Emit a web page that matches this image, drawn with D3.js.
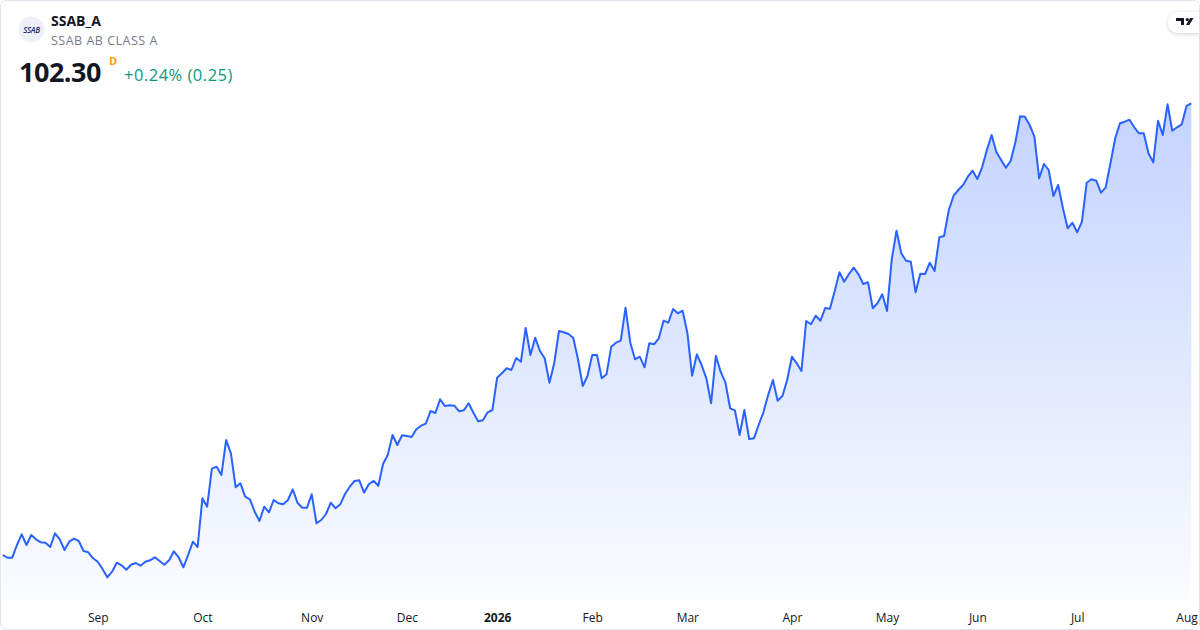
<!DOCTYPE html>
<html>
<head>
<meta charset="utf-8">
<script src="https://cdn.jsdelivr.net/npm/d3@7"></script>
<style>
  body { margin: 0; background: #fff; font-family: "Open Sans", sans-serif; }
</style>
</head>
<body>
<div id="graph"></div>
<script>
// Données : cours de clôture quotidiens (séances)
const prix = [
  57.13, 56.86, 56.86, 58.13, 59.20, 58.13, 59.13, 58.70, 58.40, 58.36,
  57.93, 59.30, 58.70, 57.63, 58.46, 58.76, 58.53, 57.53, 57.40, 56.80,
  56.46, 55.73, 54.90, 55.46, 56.36, 56.10, 55.66, 56.16, 56.33, 56.06,
  56.46, 56.60, 56.90, 56.53, 56.16, 56.60, 57.50, 56.90, 55.90, 57.13,
  58.46, 57.93, 62.80, 61.96, 65.76, 65.96, 65.13, 68.63, 67.30, 63.90,
  64.30, 62.96, 62.70, 61.46, 60.53, 61.96, 61.40, 62.63, 62.30, 62.20,
  62.63, 63.70, 62.36, 61.86, 61.86, 63.20, 60.30, 60.63, 61.23, 62.36,
  61.80, 62.20, 63.23, 63.96, 64.53, 64.60, 63.36, 64.20, 64.56, 64.06,
  66.23, 67.16, 69.13, 68.13, 69.10, 69.03, 68.93, 69.70, 70.06, 70.26,
  71.53, 71.33, 72.70, 72.03, 72.10, 72.06, 71.50, 71.60, 72.30, 71.36,
  70.50, 70.60, 71.40, 71.63, 74.86, 75.30, 75.80, 75.63, 76.83, 76.46,
  79.83, 77.13, 78.86, 77.53, 76.80, 74.36, 76.30, 79.53, 79.40, 79.23,
  78.86, 76.70, 74.03, 75.03, 77.13, 77.13, 74.80, 75.20, 77.96, 78.36,
  78.56, 81.86, 78.36, 76.70, 76.96, 75.90, 78.30, 78.20, 78.80, 80.56,
  80.36, 81.73, 81.30, 81.56, 79.36, 75.06, 77.20, 76.13, 74.80, 72.30,
  77.06, 75.46, 74.40, 71.80, 71.60, 69.13, 71.63, 68.73, 68.80, 70.13,
  71.40, 73.13, 74.63, 72.56, 73.03, 74.63, 76.96, 76.30, 75.53, 80.53,
  80.20, 81.06, 80.56, 81.83, 81.76, 83.53, 85.40, 84.46, 85.23, 85.86,
  85.20, 84.23, 84.40, 81.80, 82.30, 83.20, 81.53, 86.70, 89.56, 87.30,
  86.56, 86.46, 83.40, 85.26, 85.23, 86.36, 85.53, 88.90, 89.03, 91.63,
  93.06, 93.63, 94.13, 94.96, 95.56, 94.73, 95.90, 97.63, 99.13, 97.43,
  96.63, 95.86, 96.53, 98.40, 101.00, 100.96, 100.13, 98.96, 94.80, 96.23,
  95.63, 93.03, 94.13, 91.80, 89.80, 90.36, 89.40, 90.46, 94.36, 94.70,
  94.56, 93.36, 93.90, 96.30, 98.80, 100.30, 100.46, 100.66, 99.90, 99.30,
  99.30, 97.30, 96.40, 100.56, 99.13, 102.20, 99.56, 99.90, 100.20, 102.05,
  102.30
];

// Repères de l'axe : index de la première séance du mois
const moisIndex = [20, 42, 65, 85, 104, 124, 144, 166, 186, 205, 226, 249];
const moisLabels = ["Sep", "Oct", "Nov", "Dec", "2026", "Feb", "Mar", "Apr", "May", "Jun", "Jul", "Aug"];

const symbole = "SSAB_A";
const nomComplet = "SSAB AB CLASS A";
const dernierCours = "102.30";
const variation = "+0.24% (0.25)";

const width = 1200;
const height = 630;
const basPane = 600;

const svg = d3.select("#graph")
  .append("svg")
  .attr("width", width)
  .attr("height", height)
  .style("display", "block");

// Échelles
const xScale = d3.scaleLinear().domain([0, prix.length - 1]).range([2.7, 1191.3]);
const yScale = d3.scaleLinear().domain(d3.extent(prix)).range([577.3, 103.3]);

// Dégradé de l'aire
const defs = svg.append("defs");
const grad = defs.append("linearGradient")
  .attr("id", "aireGrad")
  .attr("gradientUnits", "userSpaceOnUse")
  .attr("x1", 0).attr("x2", 0)
  .attr("y1", yScale(d3.max(prix))).attr("y2", basPane);
grad.append("stop").attr("offset", 0).attr("stop-color", "rgb(41,98,255)").attr("stop-opacity", 0.28);
grad.append("stop").attr("offset", 1).attr("stop-color", "rgb(41,98,255)").attr("stop-opacity", 0.02);

const ombre = defs.append("filter").attr("id", "ombre")
  .attr("x", "-50%").attr("y", "-50%").attr("width", "200%").attr("height", "200%");
ombre.append("feDropShadow")
  .attr("dx", 0).attr("dy", 1).attr("stdDeviation", 2)
  .attr("flood-color", "#000").attr("flood-opacity", 0.18);

// Aire + ligne
const aire = d3.area()
  .x((d, i) => xScale(i))
  .y0(basPane)
  .y1(d => yScale(d));

const ligne = d3.line()
  .x((d, i) => xScale(i))
  .y(d => yScale(d));

svg.append("path")
  .datum(prix)
  .attr("d", aire)
  .attr("fill", "url(#aireGrad)");

svg.append("path")
  .datum(prix)
  .attr("d", ligne)
  .attr("fill", "none")
  .attr("stroke", "#2962ff")
  .attr("stroke-width", 2)
  .attr("stroke-linejoin", "round");

// Axe des temps
const axeX = svg.append("g")
  .attr("transform", `translate(0,${basPane})`)
  .call(d3.axisBottom(xScale)
    .tickValues(moisIndex)
    .tickFormat((d, i) => moisLabels[i])
    .tickSize(0)
    .tickPadding(13.5));

axeX.select(".domain").remove();
axeX.selectAll("text")
  .attr("fill", "#131722")
  .style("font-family", "'Open Sans', sans-serif")
  .style("font-size", "12px")
  .style("font-weight", (d, i) => moisLabels[i] === "2026" ? "700" : "400");

// En-tête
const entete = svg.append("g");

entete.append("circle")
  .attr("cx", 31.5).attr("cy", 29.5).attr("r", 13)
  .attr("fill", "#eef0f9");

entete.append("text")
  .attr("x", 31.5).attr("y", 32.5)
  .attr("text-anchor", "middle")
  .attr("fill", "#1d2c6b")
  .style("font-size", "8px")
  .style("font-weight", "600")
  .style("font-style", "italic")
  .style("letter-spacing", "-0.3px")
  .text("SSAB");

entete.append("text")
  .attr("x", 51).attr("y", 26)
  .attr("fill", "#131722")
  .style("font-size", "14px")
  .style("font-weight", "700")
  .text(symbole);

entete.append("text")
  .attr("x", 51).attr("y", 45)
  .attr("fill", "#787b86")
  .style("font-size", "12.5px")
  .style("letter-spacing", "0.5px")
  .text(nomComplet);

entete.append("text")
  .attr("x", 19).attr("y", 82)
  .attr("fill", "#131722")
  .style("font-size", "27px")
  .style("font-weight", "700")
  .style("letter-spacing", "-0.5px")
  .text(dernierCours);

entete.append("text")
  .attr("x", 109).attr("y", 65)
  .attr("fill", "#ff9800")
  .style("font-size", "11px")
  .style("font-weight", "700")
  .text("D");

entete.append("text")
  .attr("x", 124).attr("y", 81)
  .attr("fill", "#089981")
  .style("font-size", "16.5px")
  .style("letter-spacing", "0.5px")
  .text(variation);

// Logo en haut à droite
const logo = svg.append("g");
logo.append("rect")
  .attr("x", 1168).attr("y", 12).attr("width", 48).attr("height", 21).attr("rx", 10.5)
  .attr("fill", "#fff")
  .attr("filter", "url(#ombre)");
logo.append("path")
  .attr("d", "M1176 18h8v7h-3v-4h-5z")
  .attr("fill", "#131722");
logo.append("circle")
  .attr("cx", 1187.3).attr("cy", 19.6).attr("r", 1.6)
  .attr("fill", "#131722");
logo.append("path")
  .attr("d", "M1186 25l4.2-7h3.3l-4.2 7z")
  .attr("fill", "#131722");

// Cadre
svg.append("rect")
  .attr("x", 0.5).attr("y", 0.5)
  .attr("width", width - 1).attr("height", height - 1)
  .attr("rx", 6)
  .attr("fill", "none")
  .attr("stroke", "#e0e3eb");
</script>
</body>
</html>
